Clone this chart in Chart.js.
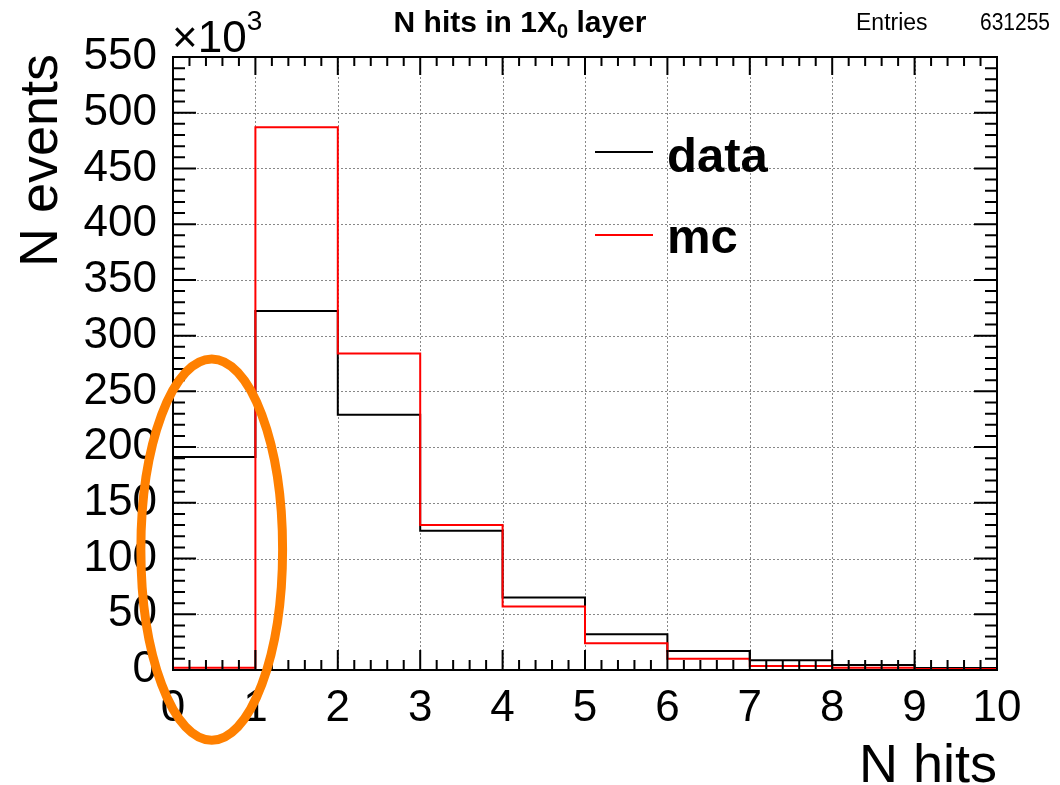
<!DOCTYPE html>
<html><head><meta charset="utf-8">
<script src="https://cdn.jsdelivr.net/npm/chart.js@4.4.1/dist/chart.umd.min.js"></script>
<style>html,body{margin:0;padding:0;background:#fff}canvas{display:block}</style>
</head><body>
<canvas id="c" width="1060" height="785"></canvas>
<script>
// ---- data (values in units of 10^3 events) ----
const binEdges   = [0, 1, 2, 3, 4, 5, 6, 7, 8, 9, 10];
const dataCounts = [191, 322, 229, 125, 65, 32, 17, 8.7, 4.5, 1.8];
const mcCounts   = [2, 487, 284, 130, 57, 24, 10, 3.6, 2.1, 0.9];
const xTickValues = [0, 1, 2, 3, 4, 5, 6, 7, 8, 9, 10];
const yTickValues = [0, 50, 100, 150, 200, 250, 300, 350, 400, 450, 500, 550];
const seriesNames = ['data', 'mc'];
const entries = 631255;
// annotation ellipse (data units): centre x, centre y, half-width, half-height
const ellipseAnno = [0.47, 108, 0.86, 171];

const FONT = '"Liberation Sans", Arial, Helvetica, sans-serif';

function histPoints(counts) {
  return binEdges.map((e, i) => ({ x: e, y: counts[Math.min(i, counts.length - 1)] }));
}

const rootStyle = {
  id: 'rootStyle',
  beforeDatasetsDraw(chart) {
    const ctx = chart.ctx, a = chart.chartArea;
    const xs = chart.scales.x, ys = chart.scales.y;
    ctx.save();
    ctx.strokeStyle = '#888';
    ctx.lineWidth = 1;
    ctx.setLineDash([2, 2]);
    xTickValues.forEach(v => {
      if (v <= xs.min || v >= xs.max) return;
      const px = Math.round(xs.getPixelForValue(v)) + 0.5;
      ctx.beginPath(); ctx.moveTo(px, a.top); ctx.lineTo(px, a.bottom); ctx.stroke();
    });
    yTickValues.forEach(v => {
      if (v <= ys.min || v >= ys.max) return;
      const py = Math.round(ys.getPixelForValue(v)) + 0.5;
      ctx.beginPath(); ctx.moveTo(a.left, py); ctx.lineTo(a.right, py); ctx.stroke();
    });
    ctx.restore();
  },
  afterDatasetsDraw(chart) {
    const ctx = chart.ctx, a = chart.chartArea;
    const xs = chart.scales.x, ys = chart.scales.y;
    ctx.save();
    ctx.setLineDash([]);
    ctx.strokeStyle = '#000';
    ctx.lineWidth = 2;
    // ticks x (bottom + top)
    for (let i = 0; i < xTickValues.length; i++) {
      const v0 = xTickValues[i];
      const px = xs.getPixelForValue(v0);
      ctx.beginPath();
      ctx.moveTo(px, a.bottom); ctx.lineTo(px, a.bottom - 20);
      ctx.moveTo(px, a.top); ctx.lineTo(px, a.top + 18);
      ctx.stroke();
      if (i < xTickValues.length - 1) {
        const v1 = xTickValues[i + 1];
        for (let k = 1; k < 5; k++) {
          const m = xs.getPixelForValue(v0 + (v1 - v0) * k / 5);
          ctx.beginPath();
          ctx.moveTo(m, a.bottom); ctx.lineTo(m, a.bottom - 10);
          ctx.moveTo(m, a.top); ctx.lineTo(m, a.top + 9);
          ctx.stroke();
        }
      }
    }
    // ticks y (left + right)
    for (let i = 0; i < yTickValues.length; i++) {
      const v0 = yTickValues[i];
      const py = ys.getPixelForValue(v0);
      ctx.beginPath();
      ctx.moveTo(a.left, py); ctx.lineTo(a.left + 23, py);
      ctx.moveTo(a.right, py); ctx.lineTo(a.right - 23, py);
      ctx.stroke();
      if (i < yTickValues.length - 1) {
        const v1 = yTickValues[i + 1];
        for (let k = 1; k < 5; k++) {
          const m = ys.getPixelForValue(v0 + (v1 - v0) * k / 5);
          ctx.beginPath();
          ctx.moveTo(a.left, m); ctx.lineTo(a.left + 12, m);
          ctx.moveTo(a.right, m); ctx.lineTo(a.right - 12, m);
          ctx.stroke();
        }
      }
    }
    // frame
    ctx.strokeRect(a.left, a.top, a.right - a.left, a.bottom - a.top);

    // legend
    const legendItems = [[seriesNames[0], '#000', 152, 172], [seriesNames[1], '#ff0000', 235, 253]];
    legendItems.forEach(([name, col, ly, tb]) => {
      ctx.strokeStyle = col; ctx.lineWidth = 2;
      ctx.beginPath(); ctx.moveTo(595, ly); ctx.lineTo(653, ly); ctx.stroke();
      ctx.fillStyle = '#000';
      ctx.font = 'bold 49px ' + FONT;
      ctx.textAlign = 'left'; ctx.textBaseline = 'alphabetic';
      ctx.fillText(name, 667, tb);
    });

    // title with subscript
    ctx.fillStyle = '#000';
    ctx.textBaseline = 'alphabetic';
    ctx.textAlign = 'left';
    const tA = 'N hits in 1X', tSub = '0', tB = ' layer';
    ctx.font = 'bold 30px ' + FONT; const wA = ctx.measureText(tA).width, wB = ctx.measureText(tB).width;
    ctx.font = 'bold 20px ' + FONT; const wS = ctx.measureText(tSub).width;
    const tw = wA + wS + wB;
    let tx = 520 - tw / 2;
    ctx.font = 'bold 30px ' + FONT; ctx.fillText(tA, tx, 32);
    ctx.font = 'bold 20px ' + FONT; ctx.fillText(tSub, tx + wA, 38);
    ctx.font = 'bold 30px ' + FONT; ctx.fillText(tB, tx + wA + wS, 32);

    // stats
    ctx.font = '23px ' + FONT;
    ctx.fillText('Entries', 856, 30);
    ctx.textAlign = 'right';
    ctx.fillText(String(entries), 1050, 30, 70);

    // exponent
    ctx.textAlign = 'left';
    ctx.font = '44px ' + FONT;
    ctx.fillText('\u00d710', 172, 52);
    const we = ctx.measureText('\u00d710').width;
    ctx.font = '28px ' + FONT;
    ctx.fillText('3', 172 + we, 30);

    // axis titles
    ctx.font = '54px ' + FONT;
    ctx.textAlign = 'right';
    ctx.fillText('N hits', a.right, 782);
    ctx.save();
    ctx.translate(57, 54);
    ctx.rotate(-Math.PI / 2);
    ctx.fillText('N events', 0, 0);
    ctx.restore();

    // orange annotation ellipse
    const cx = xs.getPixelForValue(ellipseAnno[0]);
    const cy = ys.getPixelForValue(ellipseAnno[1]);
    const rx = xs.getPixelForValue(ellipseAnno[0] + ellipseAnno[2]) - cx;
    const ry = cy - ys.getPixelForValue(ellipseAnno[1] + ellipseAnno[3]);
    ctx.strokeStyle = '#ff8000';
    ctx.lineWidth = 9;
    ctx.beginPath(); ctx.ellipse(cx, cy, rx, ry, 0, 0, Math.PI * 2); ctx.stroke();
    ctx.restore();
  }
};

new Chart(document.getElementById('c'), {
  type: 'line',
  data: {
    datasets: [
      { label: seriesNames[0], data: histPoints(dataCounts), borderColor: '#000', borderWidth: 2,
        pointRadius: 0, stepped: 'before', fill: false, order: 1 },
      { label: seriesNames[1], data: histPoints(mcCounts), borderColor: '#ff0000', borderWidth: 2,
        pointRadius: 0, stepped: 'before', fill: false, order: 0 }
    ]
  },
  options: {
    responsive: false,
    animation: false,
    devicePixelRatio: 1,
    layout: { padding: { left: 0, right: 63, top: 57, bottom: 0 } },
    plugins: { legend: { display: false }, tooltip: { enabled: false }, title: { display: false } },
    scales: {
      x: {
        type: 'linear', min: 0, max: 10, position: 'bottom',
        grid: { display: false, drawTicks: false }, border: { display: false },
        afterBuildTicks: s => { s.ticks = xTickValues.map(v => ({ value: v })); },
        afterFit: s => { s.height = 115; },
        ticks: { color: '#000', font: { family: FONT, size: 44 }, padding: 12, maxRotation: 0, autoSkip: false,
                 callback: v => String(v) }
      },
      y: {
        type: 'linear', min: 0, max: 550,
        grid: { display: false, drawTicks: false }, border: { display: false },
        afterBuildTicks: s => { s.ticks = yTickValues.map(v => ({ value: v })); },
        afterFit: s => { s.width = 173; },
        ticks: { color: '#000', font: { family: FONT, size: 44 }, padding: 16, autoSkip: false,
                 callback: v => String(v) }
      }
    }
  },
  plugins: [rootStyle]
});
</script>
</body></html>
